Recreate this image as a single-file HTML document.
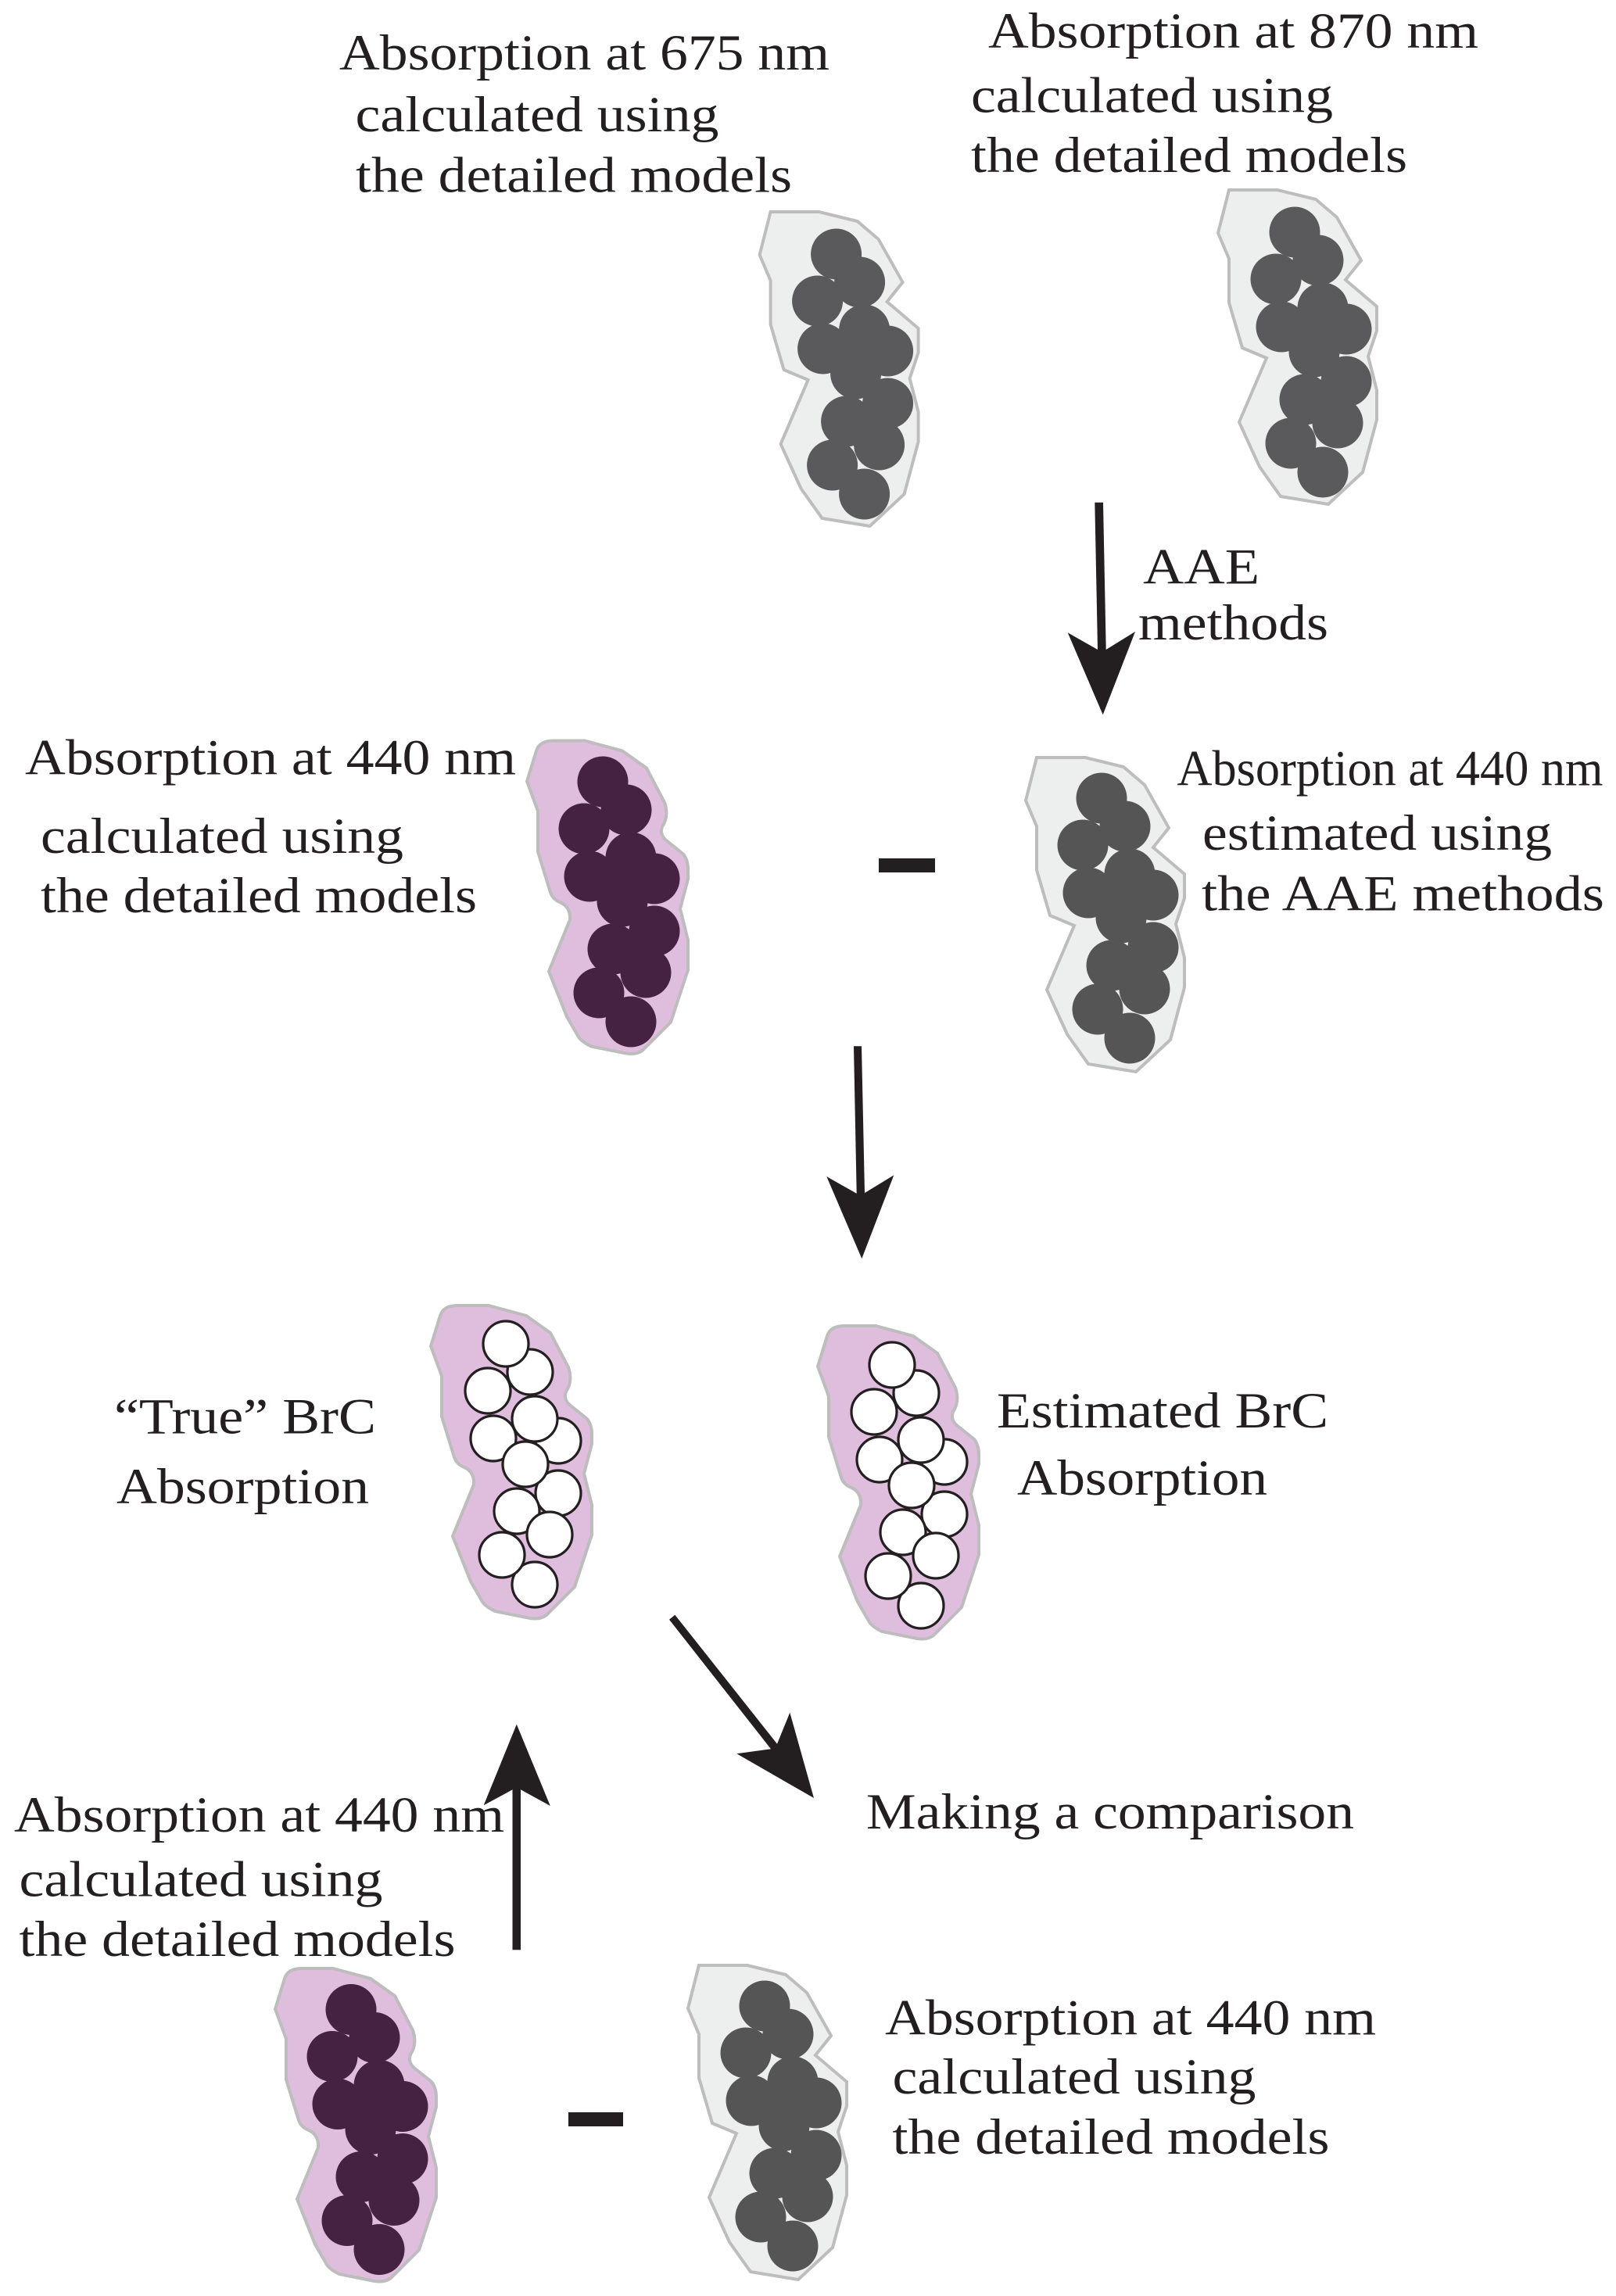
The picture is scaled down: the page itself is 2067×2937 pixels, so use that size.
<!DOCTYPE html>
<html>
<head>
<meta charset="utf-8">
<style>
html,body{margin:0;padding:0;background:#fff;width:2067px;height:2937px;overflow:hidden}
svg{display:block}
text{font-family:"Liberation Serif",serif;font-size:65px;fill:#231f20}
</style>
</head>
<body>
<svg width="2067" height="2937" viewBox="0 0 2067 2937" xmlns="http://www.w3.org/2000/svg">
<defs>
<polygon id="sharp" points="-84,-54 -22,-54 27,-42 54,-19 85,36 65,61 105,95 105,126 94,159 105,202 105,240 87,307 43,348 -18,338 -45,300 -71,243 -36,161 -67,148 -84,90 -84,34 -98,1" fill="#edefee" stroke="#bdbdbd" stroke-width="4"/>
<path id="round" d="M-62,-49 L-22,-49 L26,-36 L57,-14 L80,30 Q86,48 77,61 Q73,72 84,80 L104,96 Q110,104 110,115 L110,128 L100,166 L110,206 L110,244 L88,311 L52,347 Q44,353 31,351 L-14,342 Q-26,336 -30,330 L-45,304 L-68,246 L-41,180 Q-40,164 -53,158 Q-63,154 -66,145 L-82,93 L-82,41 L-96,3 L-84,-36 Q-80,-49 -62,-49 Z" fill="#dfbddc" stroke="#bdbdbd" stroke-width="4"/>
<g id="filled">
<circle cx="0" cy="0" r="32.5"/><circle cx="30" cy="36" r="32.5"/><circle cx="-24" cy="60" r="32.5"/><circle cx="36" cy="97" r="32.5"/><circle cx="-17" cy="121" r="32.5"/><circle cx="66" cy="124" r="32.5"/><circle cx="25" cy="153" r="32.5"/><circle cx="66" cy="191" r="32.5"/><circle cx="13" cy="214" r="32.5"/><circle cx="55" cy="244" r="32.5"/><circle cx="-5" cy="270" r="32.5"/><circle cx="36" cy="307" r="32.5"/>
</g>
<g id="open" fill="#fff" stroke="#231f20" stroke-width="3.2">
<circle cx="31" cy="36" r="29"/><circle cx="0" cy="0" r="29"/><circle cx="-23" cy="60" r="29"/><circle cx="67" cy="124" r="29"/><circle cx="-16" cy="121" r="29"/><circle cx="37" cy="96" r="29"/><circle cx="67" cy="191" r="29"/><circle cx="25" cy="154" r="29"/><circle cx="14" cy="214" r="29"/><circle cx="56" cy="244" r="29"/><circle cx="37" cy="308" r="29"/><circle cx="-5" cy="270" r="29"/>
</g>
</defs>

<!-- gray particles -->
<g transform="translate(1069.6,325)"><use href="#sharp"/><use href="#filled" fill="#5a595b"/></g>
<g transform="translate(1656,297)"><use href="#sharp"/><use href="#filled" fill="#5a595b"/></g>
<g transform="translate(1409,1021)"><use href="#sharp" transform="translate(1,2)"/><use href="#filled" fill="#565556"/></g>
<g transform="translate(978,2566)"><use href="#sharp" transform="translate(0,2)"/><use href="#filled" fill="#565556"/></g>

<!-- dark pink particles -->
<g transform="translate(771,1000)"><use href="#round" transform="translate(-1,-3.5)"/><use href="#filled" fill="#452242"/></g>
<g transform="translate(449,2570.5)"><use href="#round" transform="translate(-1,-3.5)"/><use href="#filled" fill="#452242"/></g>

<!-- white particles -->
<g transform="translate(647,1719)"><use href="#round"/><use href="#open"/></g>
<g transform="translate(1141,1746)"><use href="#round" transform="translate(1,-1)"/><use href="#open"/></g>

<!-- arrows -->
<g fill="#231f20">
<polygon points="1400.3,642.7 1411,642.7 1414.7,831 1452,808 1410.7,914.3 1365.7,809.3 1404,831"/>
<polygon points="1092,1338.3 1102,1338.3 1106,1526 1143.3,1503.3 1102.3,1610 1057.3,1505 1095.7,1526.7"/>
<polygon points="856,2071.7 863.3,2065.7 994,2230.7 1010.3,2190.7 1041,2300 942.3,2243.3 986,2237.3"/>
<polygon points="655.5,2494.3 666,2494.3 666,2289.3 703.8,2310 660.8,2205.7 618.7,2309.3 655.5,2289.3"/>
<rect x="1124" y="1098" width="72" height="18"/>
<rect x="727" y="2702" width="70" height="18"/>
</g>

<!-- text -->
<text x="434" y="89" textLength="627" lengthAdjust="spacingAndGlyphs">Absorption at 675 nm</text>
<text x="454.5" y="168" textLength="465" lengthAdjust="spacingAndGlyphs">calculated using</text>
<text x="455" y="245.5" textLength="558" lengthAdjust="spacingAndGlyphs">the detailed models</text>

<text x="1264" y="61" textLength="627" lengthAdjust="spacingAndGlyphs">Absorption at 870 nm</text>
<text x="1242" y="143.5" textLength="463" lengthAdjust="spacingAndGlyphs">calculated using</text>
<text x="1242" y="220" textLength="558" lengthAdjust="spacingAndGlyphs">the detailed models</text>

<text x="1462" y="746.7" textLength="149" lengthAdjust="spacingAndGlyphs">AAE</text>
<text x="1456" y="818" textLength="243" lengthAdjust="spacingAndGlyphs">methods</text>

<text x="32" y="990.5" textLength="628" lengthAdjust="spacingAndGlyphs">Absorption at 440 nm</text>
<text x="52" y="1091" textLength="464" lengthAdjust="spacingAndGlyphs">calculated using</text>
<text x="52" y="1167" textLength="558" lengthAdjust="spacingAndGlyphs">the detailed models</text>

<text x="1505.5" y="1004.5" textLength="545" lengthAdjust="spacingAndGlyphs">Absorption at 440 nm</text>
<text x="1538" y="1087" textLength="447" lengthAdjust="spacingAndGlyphs">estimated using</text>
<text x="1537" y="1164.5" textLength="515" lengthAdjust="spacingAndGlyphs">the AAE methods</text>

<text x="146" y="1833.5" textLength="335" lengthAdjust="spacingAndGlyphs">“True” BrC</text>
<text x="149" y="1923" textLength="323" lengthAdjust="spacingAndGlyphs">Absorption</text>

<text x="1275" y="1826" textLength="424" lengthAdjust="spacingAndGlyphs">Estimated BrC</text>
<text x="1301" y="1912" textLength="320" lengthAdjust="spacingAndGlyphs">Absorption</text>

<text x="18" y="2343" textLength="627" lengthAdjust="spacingAndGlyphs">Absorption at 440 nm</text>
<text x="24.5" y="2425.5" textLength="465" lengthAdjust="spacingAndGlyphs">calculated using</text>
<text x="24.5" y="2502" textLength="558" lengthAdjust="spacingAndGlyphs">the detailed models</text>

<text x="1108" y="2339" textLength="624" lengthAdjust="spacingAndGlyphs">Making a comparison</text>

<text x="1132" y="2602.5" textLength="628" lengthAdjust="spacingAndGlyphs">Absorption at 440 nm</text>
<text x="1141.5" y="2678" textLength="465" lengthAdjust="spacingAndGlyphs">calculated using</text>
<text x="1141.5" y="2755" textLength="559" lengthAdjust="spacingAndGlyphs">the detailed models</text>
</svg>
</body>
</html>
